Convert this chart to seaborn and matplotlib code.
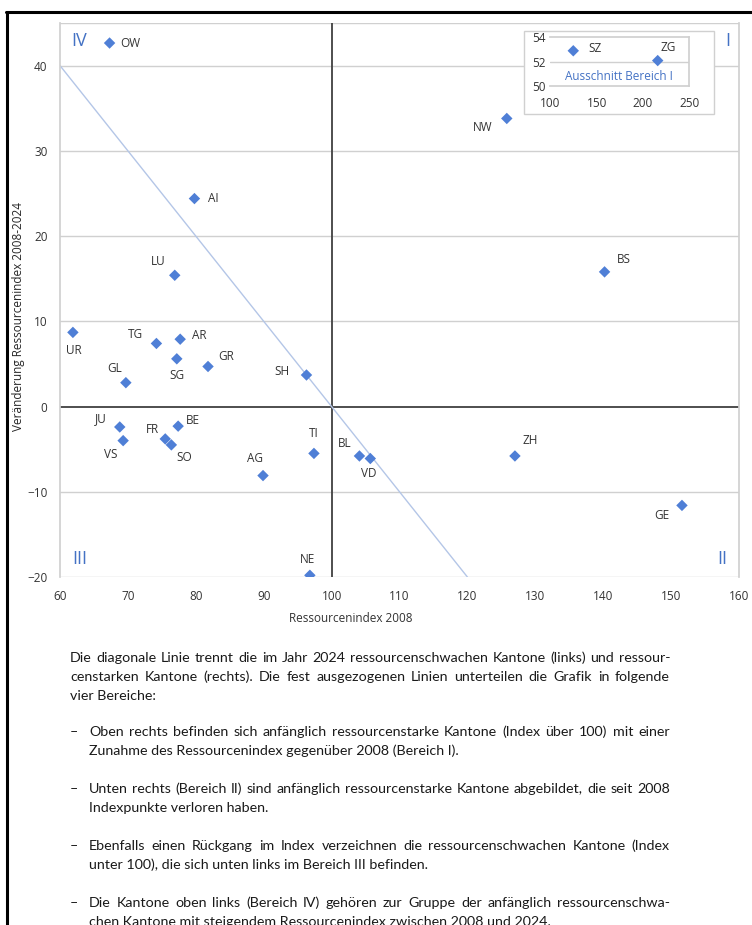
import matplotlib
matplotlib.use('Agg')
import matplotlib.pyplot as plt
import seaborn as sns
import pandas as pd
from matplotlib.lines import Line2D
from matplotlib.patches import Rectangle

# values
cantons = ['OW', 'AI', 'LU', 'NW', 'BS', 'UR', 'TG', 'AR', 'SG', 'GR', 'GL', 'SH',
           'JU', 'VS', 'BE', 'FR', 'SO', 'AG', 'TI', 'NE', 'BL', 'VD', 'ZH', 'GE']
index_2008 = [67.3, 79.8, 76.9, 125.8, 140.2, 61.9, 74.2, 77.7, 77.2, 81.8, 69.7, 96.3,
              68.8, 69.3, 77.4, 75.5, 76.4, 89.9, 97.4, 96.8, 104.1, 105.7, 127.0, 151.6]
change = [42.65, 24.4, 15.4, 33.8, 15.8, 8.7, 7.4, 7.9, 5.6, 4.7, 2.8, 3.7,
          -2.4, -4.0, -2.3, -3.8, -4.5, -8.1, -5.5, -19.8, -5.8, -6.1, -5.8, -11.6]

inset_cantons = ['SZ', 'ZG']
inset_index = [124.8, 215.9]
inset_change = [52.9, 52.1]

x_ticks = [60, 70, 80, 90, 100, 110, 120, 130, 140, 150, 160]
y_ticks = [-20, -10, 0, 10, 20, 30, 40]
inset_x_ticks = [100, 150, 200, 250]
inset_y_ticks = [50, 52, 54]

intro_lines = [
    'Die diagonale Linie trennt die im Jahr 2024 ressourcenschwachen Kantone (links) und ressour-',
    'censtarken Kantone (rechts). Die fest ausgezogenen Linien unterteilen die Grafik in folgende',
    'vier Bereiche:',
]
bullets = [
    ['Oben rechts befinden sich anfänglich ressourcenstarke Kantone (Index über 100) mit einer',
     'Zunahme des Ressourcenindex gegenüber 2008 (Bereich I).'],
    ['Unten rechts (Bereich II) sind anfänglich ressourcenstarke Kantone abgebildet, die seit 2008',
     'Indexpunkte verloren haben.'],
    ['Ebenfalls einen Rückgang im Index verzeichnen die ressourcenschwachen Kantone (Index',
     'unter 100), die sich unten links im Bereich III befinden.'],
    ['Die Kantone oben links (Bereich IV) gehören zur Gruppe der anfänglich ressourcenschwa-',
     'chen Kantone mit steigendem Ressourcenindex zwischen 2008 und 2024.'],
]

# label offsets in pixels (dx, dy) relative to each marker
label_offsets = {
    'OW': (21, 0), 'AI': (19, 0), 'LU': (-17, 14), 'NW': (-24, -9), 'BS': (19, 12),
    'UR': (1, -18), 'TG': (-21, 9), 'AR': (19, 4), 'SG': (0, -17), 'GR': (18, 10),
    'GL': (-11, 14), 'SH': (-25, 4), 'JU': (-19, 8), 'VS': (-12, -14), 'BE': (15, 6),
    'FR': (-13, 9), 'SO': (13, -13), 'AG': (-8, 17), 'TI': (0, 20), 'NE': (-2, 16),
    'BL': (-15, 12), 'VD': (-2, -15), 'ZH': (15, 15), 'GE': (-20, -10),
    'SZ': (22, 2), 'ZG': (10, 13),
}

W, H = 752, 925
MARKER = '#4f7fd6'
ROMAN = '#4472c4'
GRID = '#d0d0d0'
TXT = '#333333'

sns.set_theme(style='white')
plt.rcParams['font.family'] = ['Open Sans', 'DejaVu Sans']
plt.rcParams['text.color'] = TXT


def fx(px):
    return px / W


def fy(py):
    return 1 - py / H


df = pd.DataFrame({'kanton': cantons, 'index2008': index_2008, 'change': change})
inset_df = pd.DataFrame({'kanton': inset_cantons, 'index2008': inset_index, 'change': inset_change})

fig = plt.figure(figsize=(W / 100, H / 100), dpi=100)
ax = fig.add_axes([fx(60), fy(577), (739 - 60) / W, (577 - 23) / H])

for y in y_ticks + [45]:
    if y != 0:
        ax.axhline(y, color=GRID, lw=1, zorder=0)
ax.axhline(0, color='#404040', lw=1.3, zorder=1)
ax.axvline(100, color='#404040', lw=1.3, zorder=1)
ax.axline((100, 0), slope=-1, color='#b4c6e7', lw=1, zorder=1)

sns.scatterplot(data=df, x='index2008', y='change', marker='D', s=34,
                color=MARKER, edgecolor='none', ax=ax, zorder=3)
for k, xv, yv in zip(cantons, index_2008, change):
    ax.annotate(k, (xv, yv), xytext=label_offsets[k], textcoords='offset pixels',
                ha='center', va='center', fontsize=8.5, color=TXT)

ax.set_xlim(60, 160)
ax.set_ylim(-20, 45)
ax.set_xticks(x_ticks)
ax.set_yticks(y_ticks)
ax.tick_params(length=0, labelsize=8.5, colors=TXT, pad=9)
ax.set_xlabel('')
ax.set_ylabel('Veränderung Ressourcenindex 2008-2024', fontsize=8.5)
ax.yaxis.set_label_coords(-0.051, 0.471)
for side in ['top', 'bottom']:
    ax.spines[side].set_visible(False)
ax.spines['left'].set_color(GRID)
ax.spines['right'].set_color(GRID)

for txt, xv, yv in [('IV', 62.85, 42.85), ('I', 158.4, 42.85), ('III', 62.9, -17.9), ('II', 157.5, -17.9)]:
    ax.text(xv, yv, txt, ha='center', va='center', fontsize=13, color=ROMAN)

fig.text(fx(351), fy(619), 'Ressourcenindex 2008', ha='center', va='center', fontsize=8.5)

# inset for SZ and ZG
fig.add_artist(Rectangle((fx(524), fy(113.7)), (714 - 524) / W, (113.7 - 30.7) / H,
                         transform=fig.transFigure, facecolor='white', edgecolor=GRID, lw=1, zorder=2))
iax = fig.add_axes([fx(550.3), fy(86.3), 139 / W, 49 / H], zorder=3)
iax.axhline(52, color=GRID, lw=1, zorder=0)
sns.scatterplot(data=inset_df, x='index2008', y='change', marker='D', s=34,
                color=MARKER, edgecolor='none', ax=iax, zorder=3)
for k, xv, yv in zip(inset_cantons, inset_index, inset_change):
    iax.annotate(k, (xv, yv), xytext=label_offsets[k], textcoords='offset pixels',
                 ha='center', va='center', fontsize=8.5, color=TXT)
iax.text(174.5, 50.76, 'Ausschnitt Bereich I', ha='center', va='center', fontsize=8.5, color=ROMAN)
iax.set_xlim(100, 250)
iax.set_ylim(50, 54)
iax.set_xticks(inset_x_ticks)
iax.set_yticks(inset_y_ticks)
iax.set_xlabel('')
iax.set_ylabel('')
iax.tick_params(length=0, labelsize=8.5, colors=TXT, pad=3)
iax.tick_params(axis='x', pad=8)
for side in ['top', 'right', 'bottom']:
    iax.spines[side].set_color(GRID)
iax.spines['left'].set_visible(False)

# frame of the page
fig.add_artist(Line2D([fx(6), 1], [fy(12), fy(12)], color='black', lw=2.2))
fig.add_artist(Line2D([fx(6.5), fx(6.5)], [fy(12), 0], color='black', lw=2.2))

# explanatory text, justified line by line
renderer = fig.canvas.get_renderer()
body_font = dict(fontsize=10, family=['Lato', 'DejaVu Sans'], color='#1a1a1a')
right = 670

# pick a size so the longest justified line fits its column with normal spacing
justified = [(intro_lines[0], 70), (intro_lines[1], 70)] + [(b[0], 89) for b in bullets]
ratio = 10
for line, x0 in justified:
    probe = fig.text(0, 0, line, **body_font)
    w = probe.get_window_extent(renderer).width
    probe.remove()
    ratio = min(ratio, (right - x0) * 0.985 / w)
body_font['fontsize'] = 10 * ratio


def put_line(text, x0, x1, py, justify):
    words = text.split(' ')
    if not justify or len(words) == 1:
        fig.text(fx(x0), fy(py), text, ha='left', va='center', **body_font)
        return
    arts = [fig.text(0, fy(py), w, ha='left', va='center', **body_font) for w in words]
    widths = [a.get_window_extent(renderer).width for a in arts]
    gap = (x1 - x0 - sum(widths)) / (len(words) - 1)
    x = x0
    for a, w in zip(arts, widths):
        a.set_x(fx(x))
        x += w + gap


put_line(intro_lines[0], 70, right, 658, True)
put_line(intro_lines[1], 70, right, 677, True)
put_line(intro_lines[2], 70, right, 696, False)
for i, (first, second) in enumerate(bullets):
    py = 732 + i * 57
    fig.text(fx(70), fy(py), '–', ha='left', va='center', **body_font)
    put_line(first, 89, right, py, True)
    put_line(second, 89, right, py + 19, False)

fig.savefig('out.png', dpi=100)
